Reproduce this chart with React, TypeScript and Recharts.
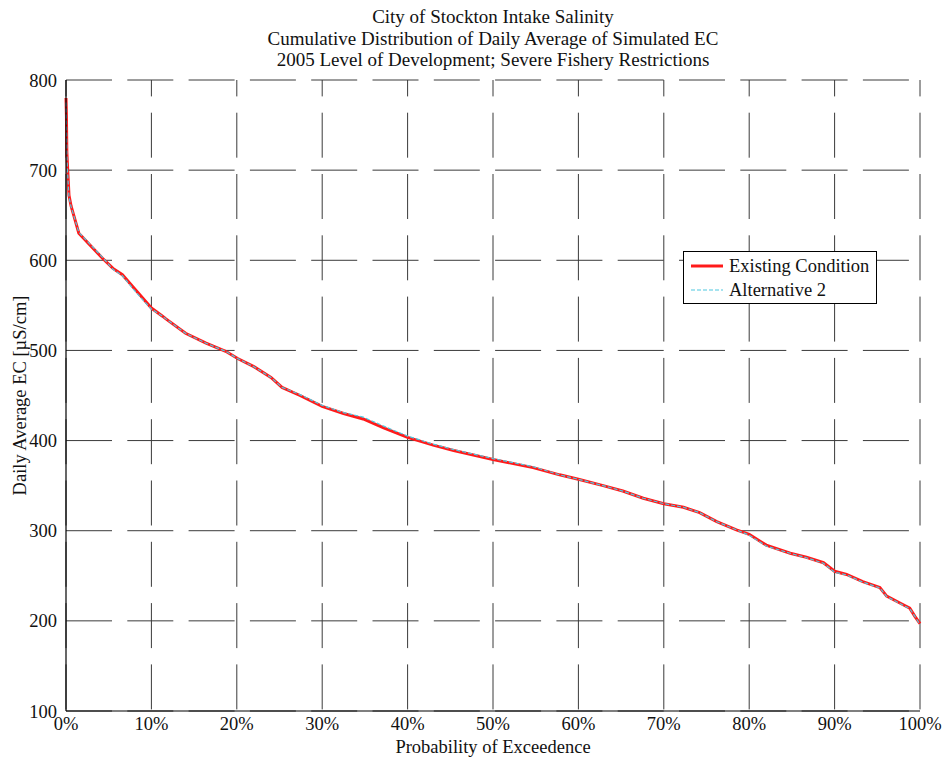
import React from 'react';
import { LineChart, Line, XAxis, YAxis, CartesianGrid } from 'recharts';

const probability = [0, 0.05, 0.1, 0.2, 0.35, 0.6, 0.9, 1.5, 2.0, 2.8, 4.3, 5.5, 6.6, 7.8, 9, 10, 11.3, 11.7, 14, 16.4, 18.7, 20.1, 22, 24, 25.3, 27.4, 30, 32.5, 34.8, 37.2, 40, 43, 45.4, 50, 54.7, 57.8, 60, 62.9, 65.2, 67.6, 70, 72.3, 74.2, 76.2, 78.5, 80, 82, 84.8, 86.7, 88.7, 90, 91.4, 93.3, 95.3, 96.1, 97.7, 98.8, 99.4, 100];
const existingCondition = [780, 760, 720, 700, 672, 660, 650, 630, 625, 617, 602, 591, 584, 571, 558, 547, 538, 535, 519, 508, 499, 491, 482, 470, 459, 450, 438, 430, 424, 414, 403.5, 395, 389, 379, 370, 362, 357, 350, 344, 336, 330, 326, 320, 310, 301, 296, 284, 275, 270.5, 264.5, 255, 251.5, 243.5, 237, 227.5, 219.5, 214, 205, 197];
const alternative2 = [775, 755, 715, 695, 670, 659, 650, 631, 626, 618, 603, 590, 583, 569, 556, 546, 538, 535, 519, 508, 499, 491, 482, 470, 459, 451, 439, 431, 426, 416, 405, 396, 390, 380, 371, 362, 357, 350, 344, 336, 330, 326, 320, 310, 301, 295, 283, 275, 270, 264, 254, 251, 243, 236.5, 227, 219, 213.5, 205, 196];
const xTicks = [0, 10, 20, 30, 40, 50, 60, 70, 80, 90, 100];
const yTicks = [100, 200, 300, 400, 500, 600, 700, 800];
const titleLines = [
  'City of Stockton Intake Salinity',
  'Cumulative Distribution of Daily Average of Simulated EC',
  '2005 Level of Development; Severe Fishery Restrictions',
];
const seriesNames = ['Existing Condition', 'Alternative 2'];

const data = probability.map((p, i) => ({ p, existing: existingCondition[i], alt2: alternative2[i] }));

const FONT = '"Liberation Serif", "Times New Roman", serif';

const LegendBox = () => (
  <div style={{ position: 'absolute', left: 683, top: 251, width: 192, height: 51, border: '1px solid #000', background: '#fff', fontFamily: FONT, fontSize: 18.5, color: '#111' }}>
    <div style={{ position: 'absolute', left: 6, top: 4, display: 'flex', alignItems: 'center', height: 20 }}>
      <svg width={34} height={6}><line x1={1} y1={3} x2={33} y2={3} stroke="#ff1a1a" strokeWidth={3} /></svg>
      <span style={{ marginLeft: 5, whiteSpace: 'nowrap' }}>{seriesNames[0]}</span>
    </div>
    <div style={{ position: 'absolute', left: 6, top: 28, display: 'flex', alignItems: 'center', height: 20 }}>
      <svg width={34} height={6}><line x1={1} y1={3} x2={33} y2={3} stroke="#4fc8e0" strokeWidth={1.2} strokeDasharray="4 2" /></svg>
      <span style={{ marginLeft: 5, whiteSpace: 'nowrap' }}>{seriesNames[1]}</span>
    </div>
  </div>
);

export default function App() {
  return (
    <div style={{ position: 'absolute', left: 0, top: 0, width: 946, height: 759, background: '#fff', fontFamily: FONT }}>
      <div style={{ position: 'absolute', left: 66, top: 6, width: 854, textAlign: 'center', fontSize: 19, lineHeight: '21.5px', color: '#111' }}>
        {titleLines.map((t) => (<div key={t}>{t}</div>))}
      </div>
      <LineChart
        width={946}
        height={759}
        data={data}
        margin={{ top: 80, right: 26, bottom: 0, left: 0 }}
        style={{ fontFamily: FONT }}
      >
        <CartesianGrid horizontal={true} vertical={false} stroke="#3a3a3a" strokeDasharray="46 15.3" />
        <CartesianGrid horizontal={false} vertical={true} stroke="#3a3a3a" strokeDasharray="45 16.3" strokeDashoffset={28.6} />
        <XAxis
          dataKey="p"
          type="number"
          domain={[0, 100]}
          ticks={xTicks}
          tickFormatter={(v: number) => `${v}%`}
          height={48}
          axisLine={{ stroke: '#000', strokeWidth: 1.2 }}
          tickLine={false}
          tickMargin={0}
          tick={{ fill: '#111', fontSize: 18.5, fontFamily: FONT }}
          interval={0}
          label={{ value: 'Probability of Exceedence', position: 'insideBottom', offset: 6, style: { fill: '#111', fontSize: 18.5, fontFamily: FONT } }}
        />
        <XAxis xAxisId="top" orientation="top" type="number" dataKey="p" domain={[0, 100]} height={0} tick={false} tickLine={false} axisLine={{ stroke: '#000', strokeWidth: 1.2 }} />
        <YAxis
          type="number"
          domain={[100, 800]}
          ticks={yTicks}
          width={66}
          axisLine={{ stroke: '#000', strokeWidth: 1.2 }}
          tickLine={false}
          tickMargin={3}
          tick={{ fill: '#111', fontSize: 18.5, fontFamily: FONT }}
          interval={0}
          label={{ value: 'Daily Average EC [µS/cm]', angle: -90, position: 'insideLeft', offset: 19, style: { textAnchor: 'middle', fill: '#111', fontSize: 18.5, fontFamily: FONT } }}
        />
        <YAxis yAxisId="right" orientation="right" type="number" domain={[100, 800]} width={0} tick={false} tickLine={false} axisLine={{ stroke: '#000', strokeWidth: 1.2 }} />
        <Line dataKey="existing" name={seriesNames[0]} stroke="#ff1a1a" strokeWidth={3} dot={false} isAnimationActive={false} type="linear" />
        <Line dataKey="alt2" name={seriesNames[1]} stroke="#4fc8e0" strokeWidth={1.2} strokeDasharray="4 2" dot={false} isAnimationActive={false} type="linear" />
      </LineChart>
      <LegendBox />
    </div>
  );
}
